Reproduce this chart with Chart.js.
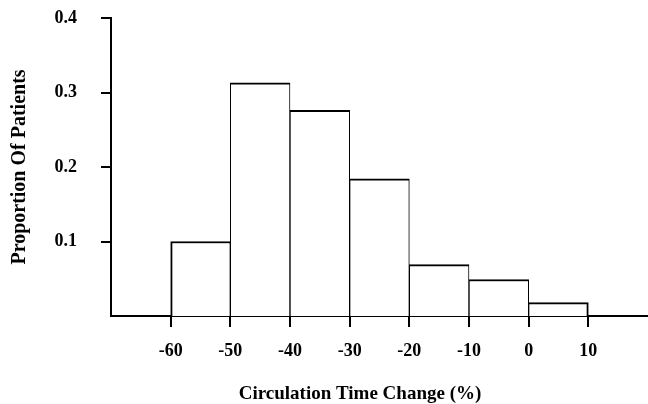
<!DOCTYPE html>
<html>
<head>
<meta charset="utf-8">
<script src="https://cdn.jsdelivr.net/npm/chart.js@4"></script>
<style>
  html, body { margin: 0; padding: 0; background: #fff; }
  #wrap { width: 648px; height: 404px; }
</style>
</head>
<body>
<div id="wrap"><canvas id="histChart" width="648" height="404"></canvas></div>
<script>
// bin centres (circulation time change, %) and proportion of patients
const binCentres = [-55, -45, -35, -25, -15, -5, 5];
const proportions = [0.100, 0.313, 0.276, 0.184, 0.069, 0.049, 0.018];
const xTicks = [-60, -50, -40, -30, -20, -10, 0, 10];
const yTicks = [0.1, 0.2, 0.3, 0.4];

const serif = "'Liberation Serif', 'DejaVu Serif', serif";
const last = proportions.length - 1;

// x title drawn a bit left of the plot centre, like the original
const xTitlePlugin = {
  id: 'xTitle',
  afterDraw(chart) {
    const ctx = chart.ctx;
    ctx.save();
    ctx.font = "bold 19px " + serif;
    ctx.fillStyle = '#000';
    ctx.textAlign = 'center';
    ctx.textBaseline = 'middle';
    ctx.fillText('Circulation Time Change (%)', 360, 394);
    ctx.restore();
  }
};

const data = {
  datasets: [{
    label: 'Proportion Of Patients',
    data: binCentres.map((x, i) => ({ x: x, y: proportions[i] })),
    backgroundColor: '#fff',
    borderColor: '#000',
    borderWidth: (c) => ({
      left: c.dataIndex === 0 ? 2 : 1,
      right: c.dataIndex === last ? 2 : 1,
      top: 2,
      bottom: 0
    }),
    borderSkipped: false,
    barPercentage: 1,
    categoryPercentage: 1
  }]
};

const config = {
  type: 'bar',
  data: data,
  options: {
    responsive: false,
    animation: false,
    layout: { padding: { top: 18, right: 0, left: 0, bottom: 0 } },
    plugins: { legend: { display: false }, tooltip: { enabled: false } },
    scales: {
      x: {
        type: 'linear',
        min: -70,
        max: 20,
        offset: false,
        afterBuildTicks: (s) => { s.ticks = xTicks.map(v => ({ value: v })); },
        afterFit: (s) => { s.height = 88; },
        border: { color: '#000', width: 2 },
        grid: { offset: false, drawOnChartArea: false, drawTicks: true, tickLength: 11, color: '#000', lineWidth: 2 },
        ticks: { color: '#000', padding: 14, maxRotation: 0, font: { family: serif, size: 18, weight: 'bold' } }
      },
      y: {
        min: 0,
        max: 0.4,
        afterBuildTicks: (s) => { s.ticks = yTicks.map(v => ({ value: v })); },
        afterFit: (s) => { s.width = 111; s.paddingTop = 0; s.paddingBottom = 0; },
        border: { color: '#000', width: 2 },
        grid: { drawOnChartArea: false, drawTicks: true, tickLength: 10, color: '#000', lineWidth: 2 },
        ticks: { color: '#000', padding: 24, font: { family: serif, size: 18, weight: 'bold' } },
        title: {
          display: true,
          text: 'Proportion Of Patients',
          color: '#000',
          padding: { top: 8, bottom: 0 },
          font: { family: serif, size: 20, weight: 'bold' }
        }
      }
    }
  },
  plugins: [xTitlePlugin]
};

const histChart = new Chart(document.getElementById('histChart'), config);
</script>
</body>
</html>
